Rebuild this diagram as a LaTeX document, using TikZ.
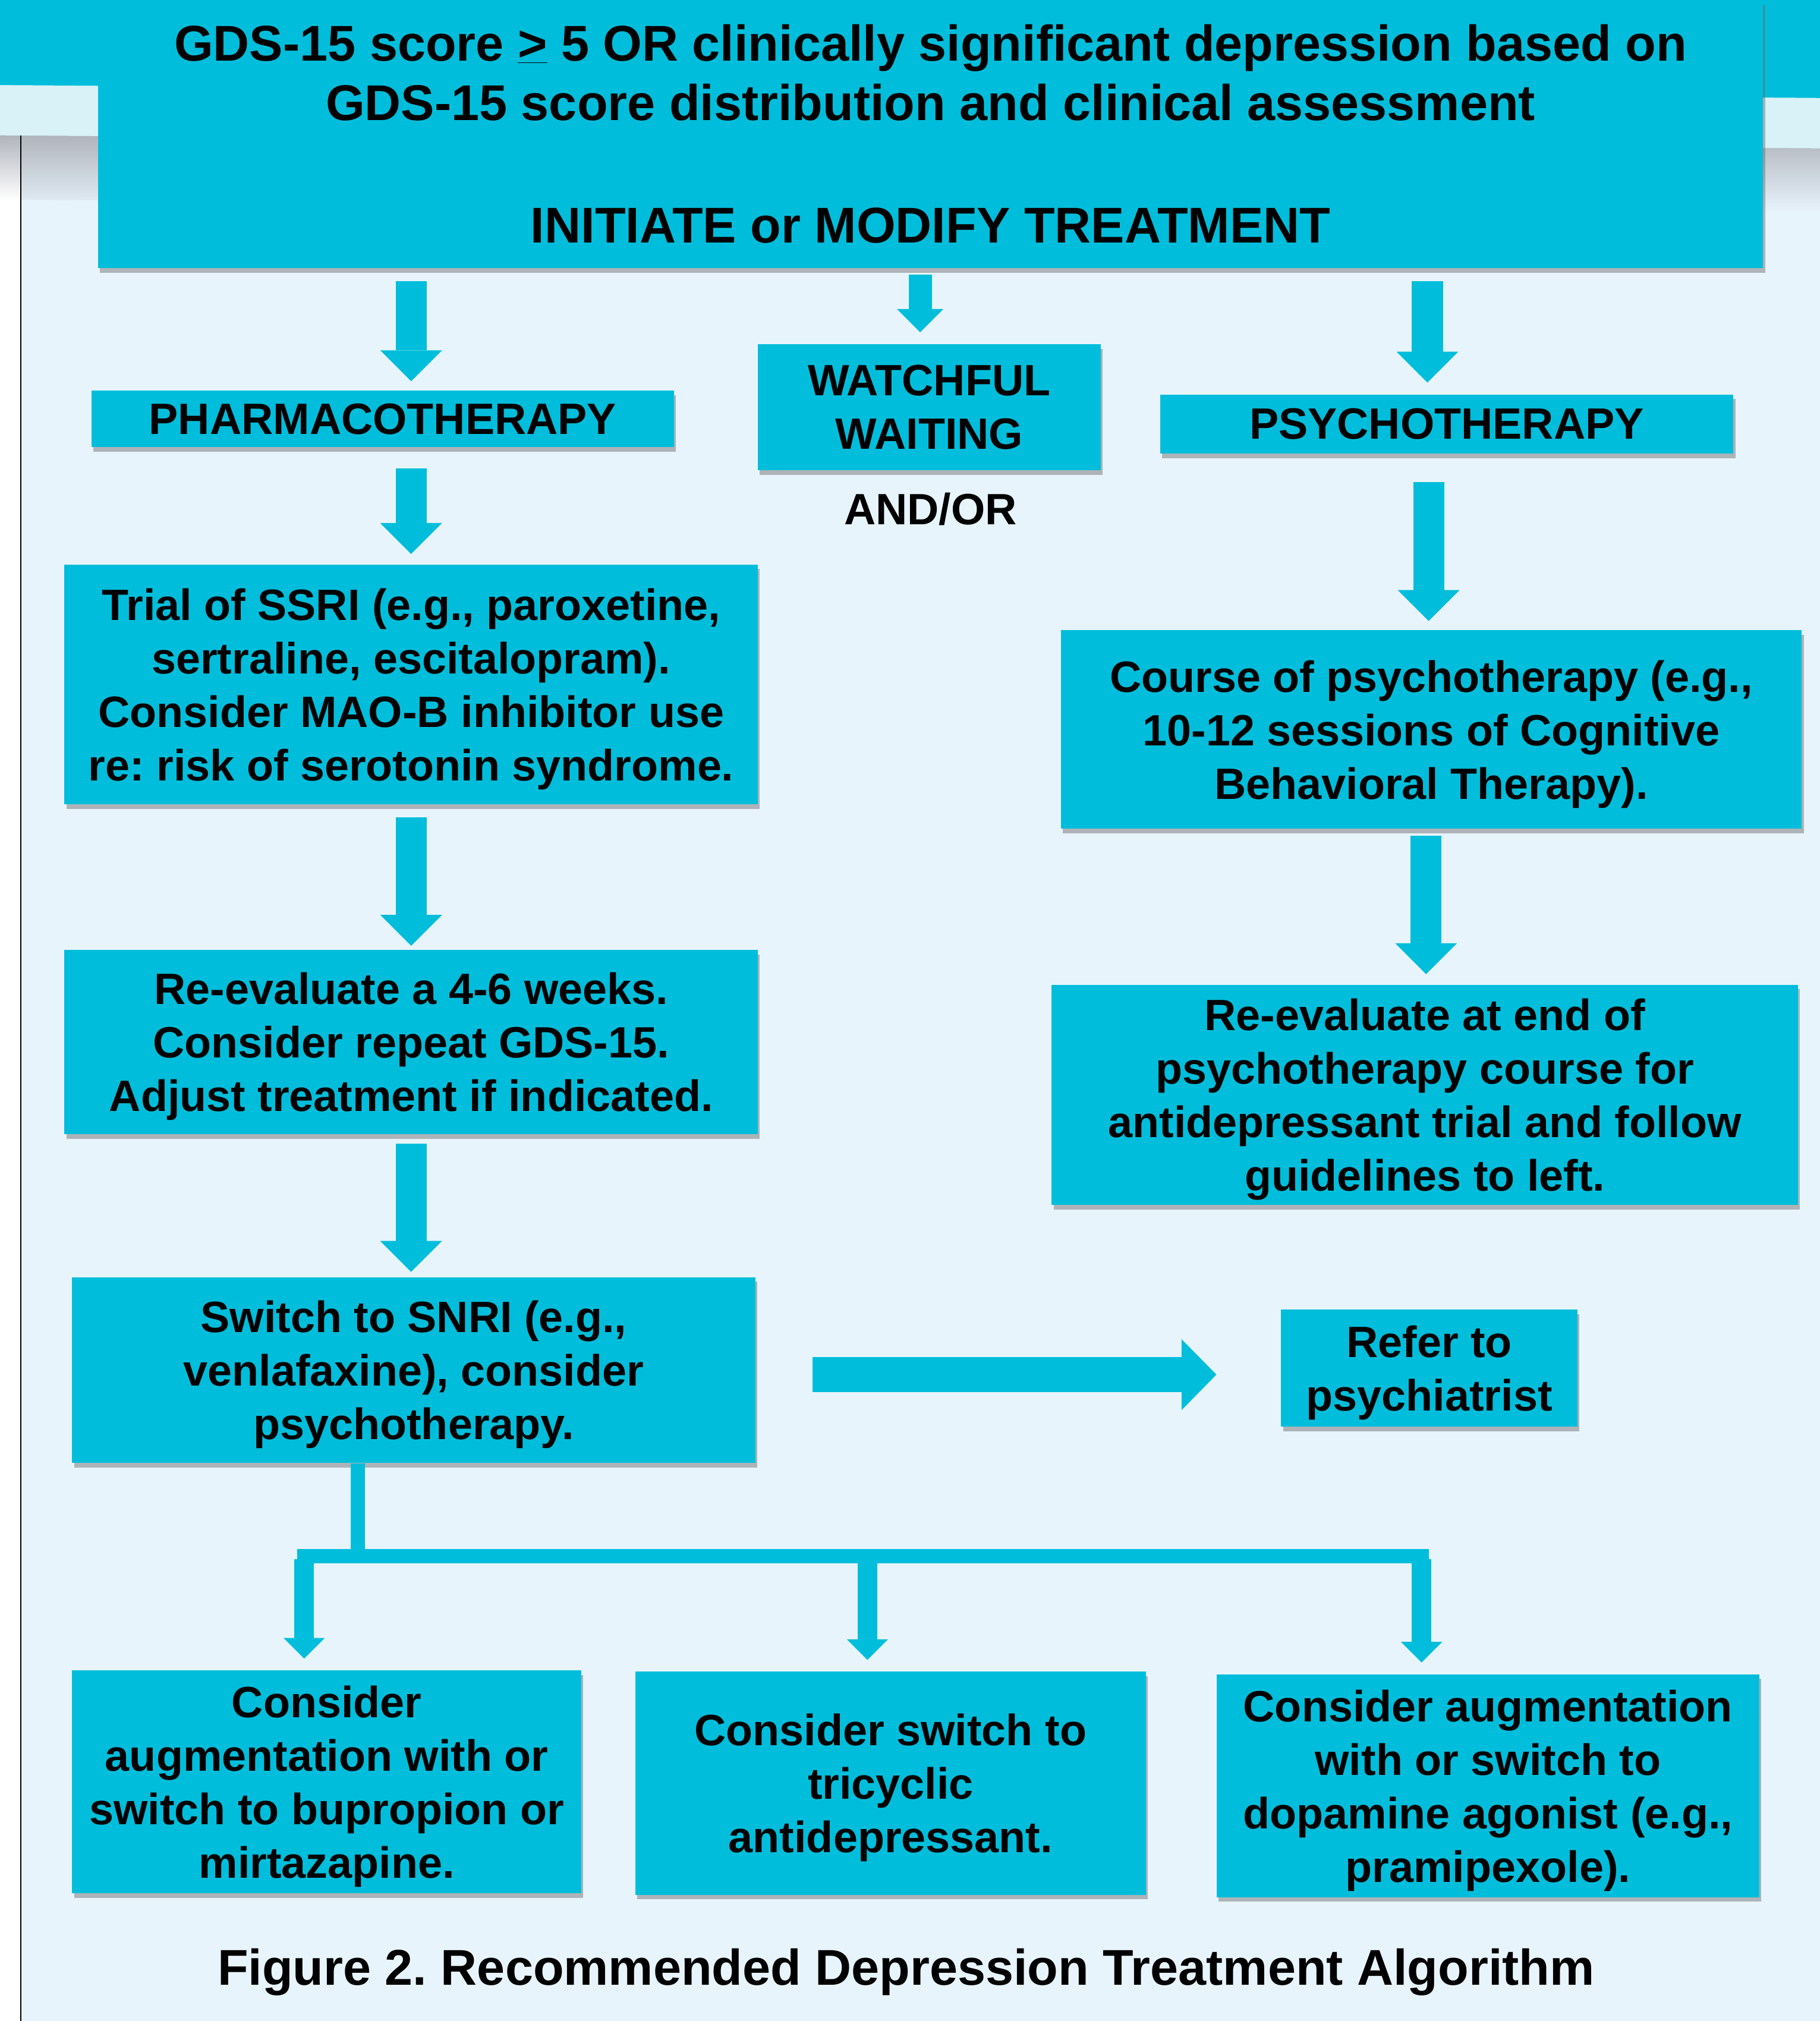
\documentclass[tikz,border=0pt]{standalone}
\usepackage{fontspec}
\setmainfont{Liberation Sans}
\usepackage{tikz}
\usetikzlibrary{calc,arrows.meta,shadows}
\definecolor{boxcyan}{RGB}{0,190,219}
\definecolor{pagebg}{RGB}{232,244,252}
\definecolor{stripbg}{RGB}{216,242,247}
\definecolor{shadegray}{RGB}{176,180,188}
\frenchspacing

\begin{document}
\begin{tikzpicture}[x=1pt,y=-1pt,
  tbox/.style={fill=boxcyan,inner sep=0pt,align=center,
    font=\fontsize{34}{41.5}\selectfont\bfseries,
    drop shadow={shadow xshift=1.5pt,shadow yshift=-3.5pt,fill=black!60,opacity=.45}},
  lift/.style={text depth=#1},
  bigtext/.style={font=\fontsize{39}{46}\selectfont\bfseries},
  fatarrow/.style={boxcyan,line width=24pt,-{Triangle[length=24pt,width=48pt,line width=0pt]}},
  thinarrow/.style={boxcyan,line width=18pt,-{Triangle[length=18pt,width=36pt,line width=0pt]}},
  widearrow/.style={boxcyan,line width=27pt,-{Triangle[length=27pt,width=55pt,line width=0pt]}},
  smallarrow/.style={boxcyan,line width=15pt,-{Triangle[length=16pt,width=32pt,line width=0pt]}},
  branch/.style={boxcyan,line width=11pt}]
  \useasboundingbox (0,0) rectangle (1412,1568);
  \fill[pagebg] (0,0) rectangle (1412,1568);
  \fill[white] (0,105) rectangle (16,1568);
  \shade[top color=shadegray,bottom color=pagebg] (16,105) -- (1412,115) -- (1412,165) -- (16,155) -- cycle;
  \shade[top color=shadegray,bottom color=white] (0,105) rectangle (16,155);
  \fill[stripbg] (0,66) -- (1412,76) -- (1412,115) -- (0,105) -- cycle;
  \fill[boxcyan] (0,0) -- (1412,0) -- (1412,76) -- (0,66) -- cycle;
  \draw[line width=1pt] (16,105) -- (16,1568);

  \node[tbox,bigtext,minimum width=1292,minimum height=208] (top) at (722,104)
    {GDS-15 score \underline{>} 5 OR clinically significant depression based on\\
     GDS-15 score distribution and clinical assessment\\[49pt]
     INITIATE or MODIFY TREATMENT};
  \node[tbox,minimum width=452,minimum height=44] (pharma) at (297,325) {PHARMACOTHERAPY};
  \node[tbox,lift=-4pt,minimum width=266,minimum height=98] (watch) at (721,316) {WATCHFUL\\WAITING};
  \node[font=\fontsize{34}{41.5}\selectfont\bfseries] (andor) at (722,395) {AND/OR};
  \node[tbox,minimum width=445,minimum height=46] (psycho) at (1122.5,329) {PSYCHOTHERAPY};
  \node[tbox,lift=-1pt,minimum width=538,minimum height=186] (ssri) at (319,531)
    {Trial of SSRI (e.g., paroxetine,\\sertraline, escitalopram).\\Consider MAO-B inhibitor use\\re: risk of serotonin syndrome.};
  \node[tbox,lift=-2pt,minimum width=575,minimum height=154] (course) at (1110.5,566)
    {Course of psychotherapy (e.g.,\\10-12 sessions of Cognitive\\Behavioral Therapy).};
  \node[tbox,lift=-1pt,minimum width=538,minimum height=143] (reeval) at (319,808.5)
    {Re-evaluate a 4-6 weeks.\\Consider repeat GDS-15.\\Adjust treatment if indicated.};
  \node[tbox,lift=-2pt,minimum width=579,minimum height=171] (reend) at (1105.5,849.5)
    {Re-evaluate at end of\\psychotherapy course for\\antidepressant trial and follow\\guidelines to left.};
  \node[tbox,lift=-1pt,minimum width=530,minimum height=144] (snri) at (321,1063)
    {Switch to SNRI (e.g.,\\venlafaxine), consider\\psychotherapy.};
  \node[tbox,lift=-1pt,minimum width=230,minimum height=91] (refer) at (1109,1061.5) {Refer to\\psychiatrist};
  \node[tbox,lift=-1pt,minimum width=395,minimum height=173] (augm) at (253.5,1382.5)
    {Consider\\augmentation with or\\switch to bupropion or\\mirtazapine.};
  \node[tbox,lift=-1pt,minimum width=396,minimum height=173] (tca) at (691,1383.5)
    {Consider switch to\\tricyclic\\antidepressant.};
  \node[tbox,lift=-1pt,minimum width=421,minimum height=173] (dopa) at (1154.5,1385.5)
    {Consider augmentation\\with or switch to\\dopamine agonist (e.g.,\\pramipexole).};
  \node[bigtext] (caption) at (703,1530) {Figure 2. Recommended Depression Treatment Algorithm};

  \draw[fatarrow,shorten <=10pt,shorten >=7pt] (top.south -| ssri) -- (pharma.north -| ssri);
  \draw[thinarrow,shorten <=5pt,shorten >=9pt] ($(top.south -| watch)+(-7,0)$) -- ($(watch.north)+(-7,0)$);
  \draw[fatarrow,shorten <=10pt,shorten >=9pt] ($(top.south -| psycho)+(-15,0)$) -- ($(psycho.north)+(-15,0)$);
  \draw[fatarrow,shorten <=16pt,shorten >=8pt] (pharma.south -| ssri) -- (ssri.north);
  \draw[fatarrow,shorten <=22pt,shorten >=7pt] ($(psycho.south -| course)+(-2,0)$) -- ($(course.north)+(-2,0)$);
  \draw[fatarrow,shorten <=10pt,shorten >=3pt] (ssri.south) -- (reeval.north);
  \draw[fatarrow,shorten <=5pt,shorten >=8pt] ($(course.south)+(-4,0)$) -- ($(reend.north -| course)+(-4,0)$);
  \draw[fatarrow,shorten <=7pt,shorten >=4pt] (reeval.south) -- (snri.north -| reeval);
  \draw[widearrow,shorten <=44pt,shorten >=50pt] ($(snri.east)+(0,3.5)$) -- ($(snri.east -| refer.west)+(0,3.5)$);

  \coordinate (fork) at (277.5,1207.5);
  \coordinate (brA) at (236,1207.5);
  \coordinate (brB) at (673,1207.5);
  \coordinate (brC) at (1103,1207.5);
  \draw[branch] (snri.south -| fork) -- (fork);
  \draw[branch,line cap=rect] (brA) -- (brC);
  \foreach \b/\n in {brA/augm,brB/tca,brC/dopa}
    \draw[smallarrow,shorten >=9pt] ($(\b)+(0,2)$) -- (\b |- \n.north);
\end{tikzpicture}
\end{document}
